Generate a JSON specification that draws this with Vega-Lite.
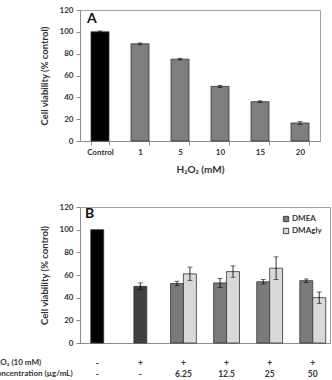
{
  "$schema": "https://vega.github.io/schema/vega-lite/v6.json",
  "autosize": {"type": "none"},
  "padding": {"left": 80, "top": 10, "right": 252, "bottom": 370},
  "background": "white",
  "bounds": "flush",
  "spacing": 66,
  "resolve": {"scale": {"color": "independent"}, "legend": {"color": "independent"}},
  "config": {
    "font": "Lato",
    "view": {"stroke": "#a0a0a0", "strokeWidth": 1},
    "axis": {
      "labelFont": "Lato", "labelFontWeight": "bold", "labelFontSize": 8, "labelColor": "#333333",
      "titleFont": "Lato", "titleFontWeight": "bold", "titleColor": "#333333",
      "domainColor": "#8c8c8c", "tickColor": "#8c8c8c", "grid": false
    },
    "title": {"font": "Lato", "fontWeight": "bold", "fontSize": 14, "color": "#111111"}
  },
  "vconcat": [
    {
      "width": 240,
      "height": 131,
      "title": {"text": "A", "anchor": "start", "frame": "group", "baseline": "alphabetic", "offset": -31, "dx": 7},
      "data": {"values": [
        {"dose": "Control", "kind": "Control", "viability": 100, "sd": 0.8},
        {"dose": "1", "kind": "H2O2", "viability": 89, "sd": 0.8},
        {"dose": "5", "kind": "H2O2", "viability": 75, "sd": 0.8},
        {"dose": "10", "kind": "H2O2", "viability": 50, "sd": 1.0},
        {"dose": "15", "kind": "H2O2", "viability": 36, "sd": 0.8},
        {"dose": "20", "kind": "H2O2", "viability": 16.5, "sd": 1.2}
      ]},
      "encoding": {
        "x": {"field": "dose", "type": "nominal", "sort": null,
          "scale": {"paddingInner": 0.55, "paddingOuter": 0.275},
          "axis": {"title": "H₂O₂ (mM)", "labelAngle": 0, "tickBand": "extent", "tickSize": 4, "labelPadding": 3, "titleFontSize": 10, "titlePadding": 8}},
        "y": {"field": "viability", "type": "quantitative",
          "scale": {"domain": [0, 120]},
          "axis": {"values": [0, 20, 40, 60, 80, 100, 120], "title": "Cell viability (% control)", "titleFontSize": 9.5, "tickSize": 4, "labelPadding": 3, "titlePadding": 10}}
      },
      "layer": [
        {"mark": {"type": "bar", "stroke": "#333333", "strokeWidth": 0.8},
          "encoding": {"color": {"field": "kind", "type": "nominal", "scale": {"domain": ["Control", "H2O2"], "range": ["#000000", "#7f7f7f"]}, "legend": null}}},
        {"mark": {"type": "errorbar", "ticks": {"size": 5}, "color": "#000000", "thickness": 0.8},
          "encoding": {"yError": {"field": "sd"}}}
      ]
    },
    {
      "width": 250,
      "height": 136,
      "title": {"text": "B", "anchor": "start", "frame": "group", "baseline": "alphabetic", "offset": -29, "dx": 5},
      "data": {"values": [
        {"grp": "- -", "series": "Control", "viability": 100, "sd": 0},
        {"grp": "+ -", "series": "H2O2", "viability": 50, "sd": 3},
        {"grp": "+ 6.25", "series": "DMEA", "viability": 52.5, "sd": 2},
        {"grp": "+ 6.25", "series": "DMAgly", "viability": 61, "sd": 6},
        {"grp": "+ 12.5", "series": "DMEA", "viability": 53, "sd": 4},
        {"grp": "+ 12.5", "series": "DMAgly", "viability": 63, "sd": 5},
        {"grp": "+ 25", "series": "DMEA", "viability": 54, "sd": 2},
        {"grp": "+ 25", "series": "DMAgly", "viability": 66, "sd": 10},
        {"grp": "+ 50", "series": "DMEA", "viability": 55, "sd": 1.5},
        {"grp": "+ 50", "series": "DMAgly", "viability": 40, "sd": 5}
      ]},
      "encoding": {
        "x": {"field": "grp", "type": "nominal", "sort": ["- -", "+ -", "+ 6.25", "+ 12.5", "+ 25", "+ 50"],
          "scale": {"paddingInner": 0.4, "paddingOuter": 0.1},
          "axis": {"title": ["H₂O₂ (10 mM)", "Concentration (µg/mL)"], "titleAlign": "left", "titleAnchor": "start", "titleX": -89, "titleY": 15, "titleBaseline": "top", "titleFontSize": 8, "titleLineHeight": 11,
            "labelExpr": "split(datum.label, ' ')", "labelBaseline": "top", "labelPadding": 15, "labelLineHeight": 11, "ticks": false, "labelAngle": 0, "labelFontSize": 8.5}},
        "y": {"field": "viability", "type": "quantitative",
          "scale": {"domain": [0, 120]},
          "axis": {"values": [0, 20, 40, 60, 80, 100, 120], "title": "Cell viability (% control)", "titleFontSize": 9.5, "tickSize": 4, "labelPadding": 3, "titlePadding": 10}}
      },
      "layer": [
        {"transform": [{"filter": "datum.series === 'Control' || datum.series === 'H2O2'"}],
          "mark": {"type": "bar", "width": {"band": 0.5}, "stroke": "#333333", "strokeWidth": 0.8},
          "encoding": {"color": {"field": "series", "type": "nominal",
            "scale": {"domain": ["Control", "H2O2", "DMEA", "DMAgly"], "range": ["#000000", "#404040", "#7a7a7a", "#d9d9d9"]},
            "legend": {"values": ["DMEA", "DMAgly"], "orient": "top-right", "title": null, "offset": 8, "padding": 0, "symbolType": "square", "symbolSize": 28, "symbolStrokeColor": "#404040", "symbolStrokeWidth": 1, "labelFont": "Lato", "labelFontWeight": "bold", "labelFontSize": 8, "labelColor": "#333333", "rowPadding": 2, "labelOffset": 2}}}},
        {"transform": [{"filter": "datum.series === 'DMEA' || datum.series === 'DMAgly'"}],
          "mark": {"type": "bar", "stroke": "#333333", "strokeWidth": 0.8},
          "encoding": {
            "xOffset": {"field": "series", "type": "nominal", "sort": ["DMEA", "DMAgly"], "scale": {"paddingInner": 0}},
            "color": {"field": "series", "type": "nominal",
              "scale": {"domain": ["Control", "H2O2", "DMEA", "DMAgly"], "range": ["#000000", "#404040", "#7a7a7a", "#d9d9d9"]},
              "legend": {"values": ["DMEA", "DMAgly"], "orient": "top-right", "title": null, "offset": 8, "padding": 0, "symbolType": "square", "symbolSize": 28, "symbolStrokeColor": "#404040", "symbolStrokeWidth": 1, "labelFont": "Lato", "labelFontWeight": "bold", "labelFontSize": 8, "labelColor": "#333333", "rowPadding": 2, "labelOffset": 2}}}},
        {"transform": [{"filter": "datum.series === 'H2O2'"}],
          "mark": {"type": "errorbar", "ticks": {"size": 5}, "color": "#000000", "thickness": 0.8},
          "encoding": {"yError": {"field": "sd"}}},
        {"transform": [{"filter": "datum.series === 'DMEA' || datum.series === 'DMAgly'"}],
          "mark": {"type": "errorbar", "ticks": {"size": 5}, "color": "#000000", "thickness": 0.8},
          "encoding": {"xOffset": {"field": "series", "type": "nominal", "sort": ["DMEA", "DMAgly"], "scale": {"paddingInner": 0}}, "yError": {"field": "sd"}}}
      ]
    }
  ]
}
